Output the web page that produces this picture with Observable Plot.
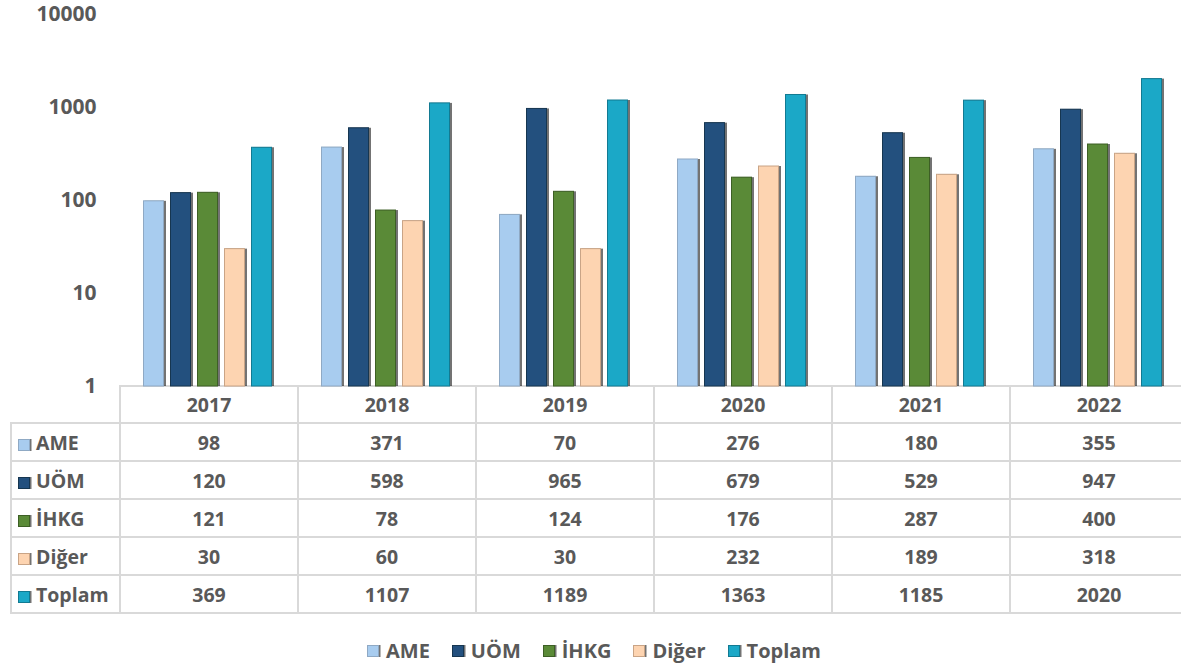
<!DOCTYPE html>
<html>
<head>
<meta charset="utf-8">
<script src="https://cdn.jsdelivr.net/npm/d3@7"></script>
<script src="https://cdn.jsdelivr.net/npm/@observablehq/plot@0.6"></script>
<style>
  html { overflow: hidden; }
  html, body { margin: 0; padding: 0; background: #fff; }
  body { font-family: "Open Sans", sans-serif; font-weight: 700; color: #595959; width: 1187px; }
  #chart svg { display: block; max-width: none !important; }
  table.data { border-collapse: collapse; table-layout: fixed; width: 1177px; margin-left: 10px; margin-top: -16px; font-size: 19.5px; }
  table.data td { border: 2px solid #d9d9d9; padding: 0; text-align: center; vertical-align: middle; white-space: nowrap; }
  table.data tr.head td { height: 35px; }
  table.data tr.row td { height: 36px; }
  table.data td.corner { border-top: none; border-left: none; }
  table.data td.lab { text-align: left; padding-left: 6px; }
  .sw { display: inline-block; width: 12px; height: 12px; vertical-align: -1px; margin-right: 6px; box-sizing: border-box; }
  .legend { width: 1181px; display: flex; justify-content: center; margin-top: 23px; font-size: 20px; padding-left: 7px; box-sizing: border-box; }
  .legend .item { display: flex; align-items: center; margin: 0 11px; }
  .legend .sw { margin-right: 7px; }
</style>
</head>
<body>
<div id="chart"></div>
<div id="table"></div>
<div id="legend" class="legend"></div>
<script>
const years = ["2017", "2018", "2019", "2020", "2021", "2022"];
const series = ["AME", "UÖM", "İHKG", "Diğer", "Toplam"];
const AME = [98, 371, 70, 276, 180, 355];
const UOM = [120, 598, 965, 679, 529, 947];
const IHKG = [121, 78, 124, 176, 287, 400];
const Diger = [30, 60, 30, 232, 189, 318];
const Toplam = [369, 1107, 1189, 1363, 1185, 2020];
const yTicks = [1, 10, 100, 1000, 10000];
const colors = ["#A8CCEF", "#23507E", "#5A8A37", "#FDD4B1", "#1BA8C7"];
const strokes = ["#8FA9C4", "#163650", "#3D5F25", "#C9A486", "#127A92"];

const valuesBySeries = [AME, UOM, IHKG, Diger, Toplam];
const data = [];
series.forEach((s, si) => years.forEach((y, yi) => data.push({ year: y, series: s, value: valuesBySeries[si][yi] })));

const chart = Plot.plot({
  width: 1187,
  height: 401,
  marginLeft: 119,
  marginRight: 0,
  marginTop: 14,
  marginBottom: 15,
  style: { fontFamily: "'Open Sans', sans-serif", fontSize: "21px", fontWeight: 700, color: "#595959", background: "#fff" },
  fx: { domain: years, padding: 0, axis: null, label: null },
  x: { domain: series, paddingInner: 0.22, paddingOuter: 0.88, axis: null },
  y: { type: "log", domain: [1, 10000], ticks: yTicks, tickFormat: d => String(d), tickSize: 0, tickPadding: 23, label: null },
  color: { domain: series, range: colors },
  marks: [
    Plot.barY(data, { fx: "year", x: "series", y1: 1, y2: "value", fill: "#000", fillOpacity: 0.55, dx: 2 }),
    Plot.barY(data, { fx: "year", x: "series", y1: 1, y2: "value", fill: "series", stroke: d => strokes[series.indexOf(d.series)], strokeWidth: 1, insetLeft: 0.5, insetRight: 0.5 })
  ]
});
chart.style.maxWidth = "none";
document.getElementById("chart").appendChild(chart);

// data table under the chart
let html = '<table class="data"><colgroup><col style="width:109px">' + years.map(() => '<col style="width:178px">').join("") + '</colgroup>';
html += '<tr class="head"><td class="corner"></td>' + years.map(y => `<td>${y}</td>`).join("") + '</tr>';
series.forEach((s, si) => {
  html += `<tr class="row"><td class="lab"><span class="sw" style="background:${colors[si]};border:1px solid ${strokes[si]};box-shadow:1.5px 0 0 rgba(0,0,0,0.55)"></span>${s}</td>` +
    valuesBySeries[si].map(v => `<td>${v}</td>`).join("") + '</tr>';
});
html += '</table>';
document.getElementById("table").innerHTML = html;

document.getElementById("legend").innerHTML = series.map((s, si) =>
  `<div class="item"><span class="sw" style="background:${colors[si]};border:1px solid ${strokes[si]};box-shadow:1.5px 0 0 rgba(0,0,0,0.55)"></span>${s}</div>`).join("");
</script>
</body>
</html>
